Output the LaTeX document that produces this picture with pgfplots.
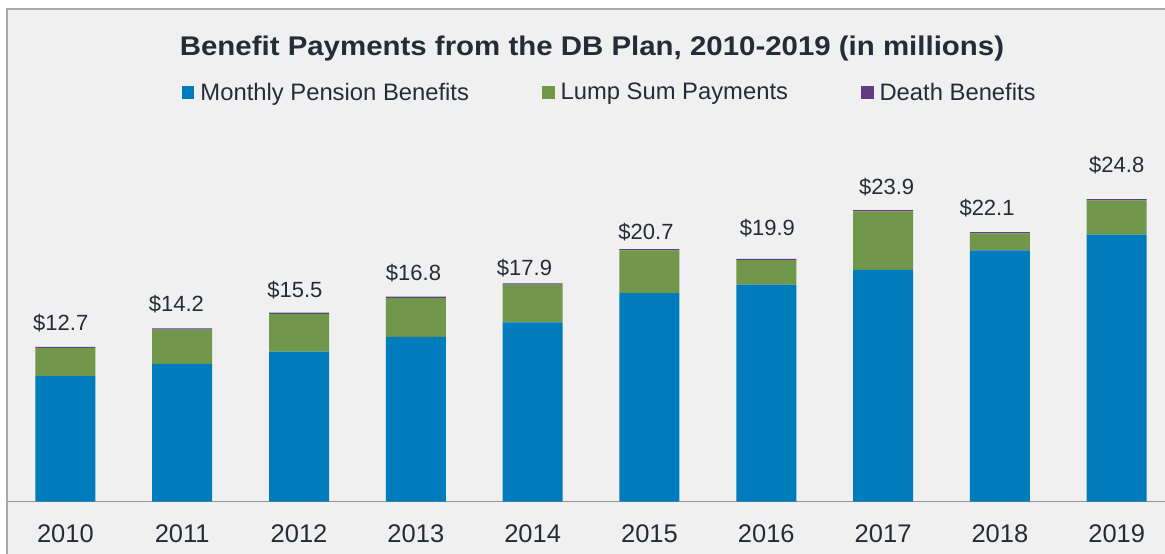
\documentclass[border=0pt]{standalone}
\usepackage{fontspec}
\setmainfont{Liberation Sans}
\newfontfamily\titlefont[FakeStretch=1.09]{Liberation Sans}
\usepackage{pgfplots}
\pgfplotsset{compat=1.18}
\usepackage{pgfplotstable}
\definecolor{cblue}{RGB}{0,123,187}
\definecolor{cgreen}{RGB}{112,151,74}
\definecolor{cpurple}{RGB}{96,60,130}
\definecolor{bgc}{RGB}{240,240,240}
\definecolor{bord}{RGB}{168,168,168}
\definecolor{basec}{RGB}{150,150,150}
\definecolor{txt}{RGB}{38,44,54}

\pgfplotstableread{
x monthly lump death
0 10.3 2.3 0.1
1 11.3 2.8 0.1
2 12.3 3.1 0.1
3 13.5 3.2 0.1
4 14.7 3.1 0.1
5 17.1 3.5 0.1
6 17.8 2.0 0.1
7 19.0 4.8 0.1
8 20.6 1.4 0.1
9 21.9 2.8 0.1
}\data

\pgfplotstableread{
x y label
-0.04 14.07 12.7
0.95 15.55 14.2
1.965 16.70 15.5
2.98 18.17 16.8
3.93 18.58 17.9
4.97 21.45 20.7
6.01 21.78 19.9
7.03 25.22 23.9
7.89 23.42 22.1
9.00 27.02 24.8
}\labels

\begin{document}
\begin{tikzpicture}[x=1bp,y=1bp]
\useasboundingbox (0,0) rectangle (1165,554);
\fill[white] (0,0) rectangle (1165,554);
\filldraw[fill=bgc, draw=bord, line width=1.5bp] (7,-10) rectangle (1180,545);
\begin{axis}[
  at={(7bp,52.3bp)}, anchor=south west,
  scale only axis, width=1158bp, height=366bp,
  xmin=-0.5, xmax=9.414, ymin=0, ymax=30,
  ybar stacked, bar width=60bp,
  axis y line=none, axis x line*=bottom,
  x axis line style={draw=basec, line width=1.2bp},
  xtick={0,...,9},
  xticklabels={2010,2011,2012,2013,2014,2015,2016,2017,2018,2019},
  major tick length=0pt,
  xticklabel style={font=\fontsize{25.5bp}{30bp}\selectfont, text=txt, anchor=base, yshift=-41.3bp, inner sep=0pt},
  legend columns=3,
  legend image code/.code={\fill[#1] (0bp,-6.5bp) rectangle (12.5bp,6bp);},
  legend style={draw=none, fill=none, inner sep=0pt, outer sep=0pt,
    at={(0.1511,1.119)}, anchor=west,
    font=\fontsize{23.8bp}{28bp}\selectfont, text=txt,
    nodes={inner sep=0pt},
    /tikz/every odd column/.append style={column sep=6bp},
    /tikz/every even column/.append style={column sep=73bp}},
  legend cell align=left,
]
\addplot[fill=cblue, draw=none] table[x=x, y=monthly] \data;
\addplot[fill=cgreen, draw=none] table[x=x, y=lump] \data;
\addplot[fill=cpurple, draw=none] table[x=x, y=death] \data;
\legend{Monthly Pension Benefits, Lump Sum Payments, Death Benefits}
\end{axis}
\begin{axis}[
  at={(7bp,52.3bp)}, anchor=south west,
  scale only axis, width=1158bp, height=366bp,
  xmin=-0.5, xmax=9.414, ymin=0, ymax=30,
  hide axis, clip=false,
]
\addplot[draw=none, mark=none, nodes near coords={\$\pgfplotspointmeta}, point meta=explicit symbolic,
  every node near coord/.append style={font=\fontsize{22bp}{26bp}\selectfont, text=txt, anchor=base, inner sep=0pt}]
  table[x=x, y=y, meta=label] \labels;
\end{axis}
\node[font=\titlefont\bfseries\fontsize{27bp}{32bp}\selectfont, text=txt, anchor=base] at (592,498.3) {Benefit Payments from the DB Plan, 2010-2019 (in millions)};
\end{tikzpicture}
\end{document}
